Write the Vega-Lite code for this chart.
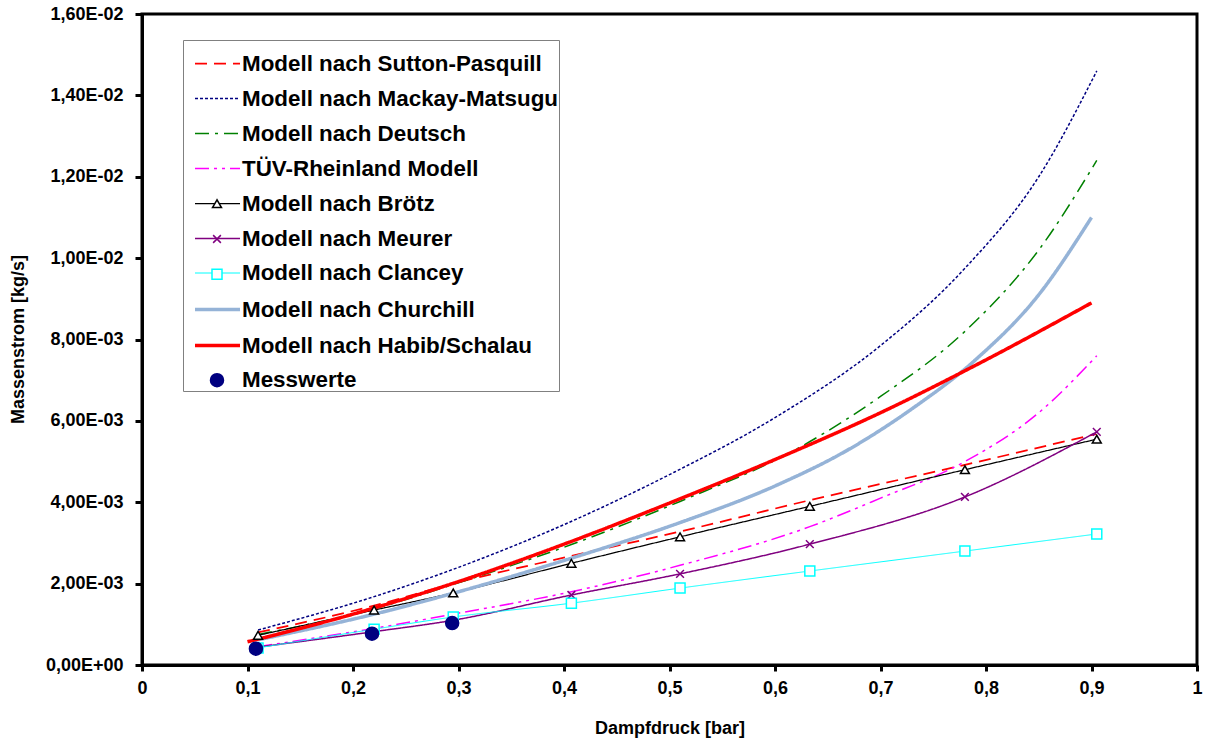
{
  "$schema": "https://vega.github.io/schema/vega-lite/v6.json",
  "width": 1055,
  "height": 651,
  "autosize": {"type": "none"},
  "padding": {"left": 142, "top": 14, "right": 9, "bottom": 79},
  "background": "white",
  "config": {
    "view": {"stroke": "black", "strokeWidth": 3},
    "axis": {
      "domainColor": "black", "domainWidth": 3, "tickColor": "black", "tickWidth": 3, "tickSize": 6,
      "labelFont": "Liberation Sans", "labelFontWeight": "bold", "labelFontSize": 18, "labelColor": "black",
      "titleFont": "Liberation Sans", "titleFontWeight": "bold", "titleFontSize": 18, "titleColor": "black",
      "grid": false, "labelOverlap": false, "labelFlush": false
    }
  },
  "datasets": {
    "lines": [
      {"series": "Modell nach Sutton-Pasquill", "x": 0.11, "y": 0.00080},
      {"series": "Modell nach Sutton-Pasquill", "x": 0.22, "y": 0.00146},
      {"series": "Modell nach Sutton-Pasquill", "x": 0.295, "y": 0.00200},
      {"series": "Modell nach Sutton-Pasquill", "x": 0.407, "y": 0.00268},
      {"series": "Modell nach Sutton-Pasquill", "x": 0.51, "y": 0.00328},
      {"series": "Modell nach Sutton-Pasquill", "x": 0.633, "y": 0.00405},
      {"series": "Modell nach Sutton-Pasquill", "x": 0.78, "y": 0.00492},
      {"series": "Modell nach Sutton-Pasquill", "x": 0.905, "y": 0.00568},
      {"series": "Modell nach Mackay-Matsugu", "x": 0.11, "y": 0.00086},
      {"series": "Modell nach Mackay-Matsugu", "x": 0.22, "y": 0.00168},
      {"series": "Modell nach Mackay-Matsugu", "x": 0.3, "y": 0.00240},
      {"series": "Modell nach Mackay-Matsugu", "x": 0.4, "y": 0.00345},
      {"series": "Modell nach Mackay-Matsugu", "x": 0.5, "y": 0.00468},
      {"series": "Modell nach Mackay-Matsugu", "x": 0.6, "y": 0.00608},
      {"series": "Modell nach Mackay-Matsugu", "x": 0.7, "y": 0.00785},
      {"series": "Modell nach Mackay-Matsugu", "x": 0.78, "y": 0.00975},
      {"series": "Modell nach Mackay-Matsugu", "x": 0.85, "y": 0.0120},
      {"series": "Modell nach Mackay-Matsugu", "x": 0.905, "y": 0.0146},
      {"series": "Modell nach Deutsch", "x": 0.11, "y": 0.00075},
      {"series": "Modell nach Deutsch", "x": 0.22, "y": 0.00138},
      {"series": "Modell nach Deutsch", "x": 0.295, "y": 0.00198},
      {"series": "Modell nach Deutsch", "x": 0.407, "y": 0.00296},
      {"series": "Modell nach Deutsch", "x": 0.51, "y": 0.00402},
      {"series": "Modell nach Deutsch", "x": 0.62, "y": 0.0053},
      {"series": "Modell nach Deutsch", "x": 0.7, "y": 0.0066},
      {"series": "Modell nach Deutsch", "x": 0.78, "y": 0.0082},
      {"series": "Modell nach Deutsch", "x": 0.85, "y": 0.0102},
      {"series": "Modell nach Deutsch", "x": 0.905, "y": 0.0124},
      {"series": "TÜV-Rheinland Modell", "x": 0.11, "y": 0.00045},
      {"series": "TÜV-Rheinland Modell", "x": 0.22, "y": 0.00090},
      {"series": "TÜV-Rheinland Modell", "x": 0.295, "y": 0.00125},
      {"series": "TÜV-Rheinland Modell", "x": 0.407, "y": 0.00180},
      {"series": "TÜV-Rheinland Modell", "x": 0.51, "y": 0.00245},
      {"series": "TÜV-Rheinland Modell", "x": 0.633, "y": 0.00340},
      {"series": "TÜV-Rheinland Modell", "x": 0.7, "y": 0.0041},
      {"series": "TÜV-Rheinland Modell", "x": 0.78, "y": 0.0050},
      {"series": "TÜV-Rheinland Modell", "x": 0.85, "y": 0.0062},
      {"series": "TÜV-Rheinland Modell", "x": 0.905, "y": 0.0076},
      {"series": "Modell nach Brötz", "x": 0.11, "y": 0.00073},
      {"series": "Modell nach Brötz", "x": 0.22, "y": 0.00135},
      {"series": "Modell nach Brötz", "x": 0.295, "y": 0.00177},
      {"series": "Modell nach Brötz", "x": 0.407, "y": 0.00250},
      {"series": "Modell nach Brötz", "x": 0.51, "y": 0.00315},
      {"series": "Modell nach Brötz", "x": 0.633, "y": 0.00390},
      {"series": "Modell nach Brötz", "x": 0.78, "y": 0.00480},
      {"series": "Modell nach Brötz", "x": 0.905, "y": 0.00555},
      {"series": "Modell nach Meurer", "x": 0.11, "y": 0.00044},
      {"series": "Modell nach Meurer", "x": 0.22, "y": 0.00082},
      {"series": "Modell nach Meurer", "x": 0.295, "y": 0.00110},
      {"series": "Modell nach Meurer", "x": 0.407, "y": 0.00172},
      {"series": "Modell nach Meurer", "x": 0.51, "y": 0.00224},
      {"series": "Modell nach Meurer", "x": 0.633, "y": 0.00297},
      {"series": "Modell nach Meurer", "x": 0.78, "y": 0.00413},
      {"series": "Modell nach Meurer", "x": 0.905, "y": 0.00573},
      {"series": "Modell nach Clancey", "x": 0.11, "y": 0.00042},
      {"series": "Modell nach Clancey", "x": 0.22, "y": 0.00088},
      {"series": "Modell nach Clancey", "x": 0.295, "y": 0.00118},
      {"series": "Modell nach Clancey", "x": 0.407, "y": 0.00152},
      {"series": "Modell nach Clancey", "x": 0.51, "y": 0.00189},
      {"series": "Modell nach Clancey", "x": 0.633, "y": 0.00231},
      {"series": "Modell nach Clancey", "x": 0.78, "y": 0.00280},
      {"series": "Modell nach Clancey", "x": 0.905, "y": 0.00322},
      {"series": "Modell nach Churchill", "x": 0.11, "y": 0.00062},
      {"series": "Modell nach Churchill", "x": 0.22, "y": 0.00125},
      {"series": "Modell nach Churchill", "x": 0.3, "y": 0.00180},
      {"series": "Modell nach Churchill", "x": 0.41, "y": 0.00265},
      {"series": "Modell nach Churchill", "x": 0.51, "y": 0.00350},
      {"series": "Modell nach Churchill", "x": 0.6, "y": 0.00440},
      {"series": "Modell nach Churchill", "x": 0.67, "y": 0.00530},
      {"series": "Modell nach Churchill", "x": 0.73, "y": 0.00630},
      {"series": "Modell nach Churchill", "x": 0.79, "y": 0.00750},
      {"series": "Modell nach Churchill", "x": 0.85, "y": 0.00910},
      {"series": "Modell nach Churchill", "x": 0.9, "y": 0.01100},
      {"series": "Modell nach Habib/Schalau", "x": 0.1, "y": 0.00057},
      {"series": "Modell nach Habib/Schalau", "x": 0.2, "y": 0.00125},
      {"series": "Modell nach Habib/Schalau", "x": 0.3, "y": 0.00205},
      {"series": "Modell nach Habib/Schalau", "x": 0.4, "y": 0.00297},
      {"series": "Modell nach Habib/Schalau", "x": 0.5, "y": 0.00398},
      {"series": "Modell nach Habib/Schalau", "x": 0.6, "y": 0.00505},
      {"series": "Modell nach Habib/Schalau", "x": 0.7, "y": 0.00620},
      {"series": "Modell nach Habib/Schalau", "x": 0.8, "y": 0.00750},
      {"series": "Modell nach Habib/Schalau", "x": 0.9, "y": 0.00890}
    ],
    "marks": [
      {"model": "Modell nach Brötz", "x": 0.11, "y": 0.00073},
      {"model": "Modell nach Brötz", "x": 0.22, "y": 0.00135},
      {"model": "Modell nach Brötz", "x": 0.295, "y": 0.00177},
      {"model": "Modell nach Brötz", "x": 0.407, "y": 0.00250},
      {"model": "Modell nach Brötz", "x": 0.51, "y": 0.00315},
      {"model": "Modell nach Brötz", "x": 0.633, "y": 0.00390},
      {"model": "Modell nach Brötz", "x": 0.78, "y": 0.00480},
      {"model": "Modell nach Brötz", "x": 0.905, "y": 0.00555},
      {"model": "Modell nach Meurer", "x": 0.11, "y": 0.00044},
      {"model": "Modell nach Meurer", "x": 0.22, "y": 0.00082},
      {"model": "Modell nach Meurer", "x": 0.295, "y": 0.00110},
      {"model": "Modell nach Meurer", "x": 0.407, "y": 0.00172},
      {"model": "Modell nach Meurer", "x": 0.51, "y": 0.00224},
      {"model": "Modell nach Meurer", "x": 0.633, "y": 0.00297},
      {"model": "Modell nach Meurer", "x": 0.78, "y": 0.00413},
      {"model": "Modell nach Meurer", "x": 0.905, "y": 0.00573},
      {"model": "Modell nach Clancey", "x": 0.11, "y": 0.00042},
      {"model": "Modell nach Clancey", "x": 0.22, "y": 0.00088},
      {"model": "Modell nach Clancey", "x": 0.295, "y": 0.00118},
      {"model": "Modell nach Clancey", "x": 0.407, "y": 0.00152},
      {"model": "Modell nach Clancey", "x": 0.51, "y": 0.00189},
      {"model": "Modell nach Clancey", "x": 0.633, "y": 0.00231},
      {"model": "Modell nach Clancey", "x": 0.78, "y": 0.00280},
      {"model": "Modell nach Clancey", "x": 0.905, "y": 0.00322},
      {"model": "Messwerte", "x": 0.108, "y": 0.00040},
      {"model": "Messwerte", "x": 0.218, "y": 0.00077},
      {"model": "Messwerte", "x": 0.294, "y": 0.00103}
    ]
  },
  "layer": [
    {
      "data": {"name": "lines"},
      "mark": {"type": "line", "interpolate": "monotone"},
      "encoding": {
        "x": {
          "field": "x", "type": "quantitative",
          "scale": {"domain": [0, 1], "nice": false},
          "axis": {
            "values": [0, 0.1, 0.2, 0.3, 0.4, 0.5, 0.6, 0.7, 0.8, 0.9, 1],
            "labelExpr": "datum.value == 0 ? '0' : (datum.value == 1 ? '1' : replace(format(datum.value, '.1f'), '.', ','))",
            "labelPadding": 8,
            "title": "Dampfdruck [bar]",
            "titleBaseline": "middle",
            "titleY": 63
          }
        },
        "y": {
          "field": "y", "type": "quantitative",
          "scale": {"domain": [0, 0.016], "nice": false},
          "axis": {
            "values": [0, 0.002, 0.004, 0.006, 0.008, 0.01, 0.012, 0.014, 0.016],
            "labelExpr": "datum.value == 0 ? '0,00E+00' : (datum.value < 0.0099 ? replace(format(datum.value * 1000, '.2f'), '.', ',') + 'E-03' : replace(format(datum.value * 100, '.2f'), '.', ',') + 'E-02')",
            "labelPadding": 12,
            "tickSize": 7,
            "title": "Massenstrom [kg/s]",
            "titleX": -124,
            "titleY": 325,
            "titleBaseline": "middle",
            "titleAlign": "center"
          }
        },
        "color": {
          "field": "series", "type": "nominal",
          "scale": {
            "domain": ["Modell nach Sutton-Pasquill", "Modell nach Mackay-Matsugu", "Modell nach Deutsch", "TÜV-Rheinland Modell", "Modell nach Brötz", "Modell nach Meurer", "Modell nach Clancey", "Modell nach Churchill", "Modell nach Habib/Schalau", "Messwerte"],
            "range": ["#FF0000", "#000080", "#008000", "#FF00FF", "#000000", "#800080", "#00FFFF", "#95B3D7", "#FF0000", "#000080"]
          },
          "legend": {
            "orient": "none", "legendX": 41, "legendY": 26, "title": null,
            "labelFont": "Liberation Sans", "labelFontWeight": "bold", "labelFontSize": 22.4, "labelColor": "black", "labelLimit": 0,
            "symbolSize": 2025, "symbolType": "stroke", "symbolOffset": 10,
            "strokeColor": "#808080", "fillColor": "white",
            "padding": 0, "rowPadding": -9.7, "labelOffset": 0
          }
        },
        "strokeDash": {
          "field": "series", "type": "nominal",
          "scale": {
            "domain": ["Modell nach Sutton-Pasquill", "Modell nach Mackay-Matsugu", "Modell nach Deutsch", "TÜV-Rheinland Modell", "Modell nach Brötz", "Modell nach Meurer", "Modell nach Clancey", "Modell nach Churchill", "Modell nach Habib/Schalau", "Messwerte"],
            "range": [[12, 7], [3, 2], [14, 6, 3, 6], [14, 5, 3, 5, 3, 5], [1, 0], [1, 0], [1, 0], [1, 0], [1, 0], [1, 0]]
          }
        },
        "strokeWidth": {
          "field": "series", "type": "nominal",
          "scale": {
            "type": "ordinal",
            "domain": ["Modell nach Sutton-Pasquill", "Modell nach Mackay-Matsugu", "Modell nach Deutsch", "TÜV-Rheinland Modell", "Modell nach Brötz", "Modell nach Meurer", "Modell nach Clancey", "Modell nach Churchill", "Modell nach Habib/Schalau", "Messwerte"],
            "range": [1.75, 1.5, 1.5, 1.5, 1.25, 1.5, 1, 3.5, 3.5, 0]
          }
        }
      }
    },
    {
      "data": {"name": "marks"},
      "mark": {"type": "point", "opacity": 1, "strokeWidth": 1.5},
      "encoding": {
        "x": {"field": "x", "type": "quantitative"},
        "y": {"field": "y", "type": "quantitative"},
        "shape": {
          "field": "model", "type": "nominal",
          "scale": {
            "domain": ["Sutton-Pasquill", "Mackay-Matsugu", "Deutsch", "TÜV", "Modell nach Brötz", "Modell nach Meurer", "Modell nach Clancey", "Churchill", "Habib/Schalau", "Messwerte"],
            "range": ["circle", "circle", "circle", "circle", "triangle-up", "M-1,-1L1,1M1,-1L-1,1", "square", "circle", "circle", "circle"]
          },
          "legend": {
            "orient": "none", "legendX": 54, "legendY": 27.5, "title": null,
            "labelFont": "Liberation Sans", "labelFontWeight": "bold", "labelFontSize": 22, "labelOpacity": 0, "labelLimit": 0,
            "labelExpr": "' '",
            "strokeColor": "transparent", "fillColor": "transparent",
            "padding": 10, "rowPadding": 13.3, "labelOffset": 5
          }
        },
        "stroke": {
          "field": "model", "type": "nominal",
          "scale": {
            "domain": ["Sutton-Pasquill", "Mackay-Matsugu", "Deutsch", "TÜV", "Modell nach Brötz", "Modell nach Meurer", "Modell nach Clancey", "Churchill", "Habib/Schalau", "Messwerte"],
            "range": ["transparent", "transparent", "transparent", "transparent", "#000000", "#800080", "#00FFFF", "transparent", "transparent", "#000080"]
          }
        },
        "fill": {
          "field": "model", "type": "nominal",
          "scale": {
            "domain": ["Sutton-Pasquill", "Mackay-Matsugu", "Deutsch", "TÜV", "Modell nach Brötz", "Modell nach Meurer", "Modell nach Clancey", "Churchill", "Habib/Schalau", "Messwerte"],
            "range": ["transparent", "transparent", "transparent", "transparent", "#FFFFFF", "transparent", "#FFFFFF", "transparent", "transparent", "#000080"]
          }
        },
        "size": {
          "field": "model", "type": "nominal",
          "scale": {
            "type": "ordinal",
            "domain": ["Sutton-Pasquill", "Mackay-Matsugu", "Deutsch", "TÜV", "Modell nach Brötz", "Modell nach Meurer", "Modell nach Clancey", "Churchill", "Habib/Schalau", "Messwerte"],
            "range": [10, 10, 10, 10, 80, 60, 100, 10, 10, 170]
          }
        }
      }
    }
  ]
}
